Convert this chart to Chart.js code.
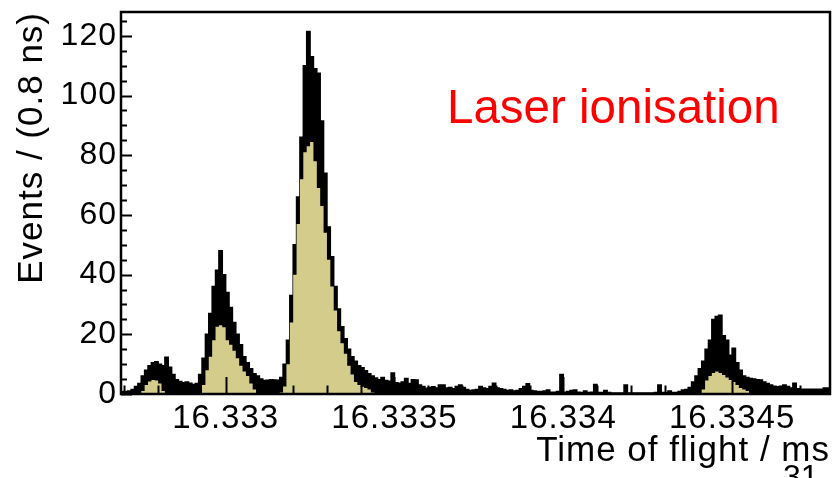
<!DOCTYPE html>
<html>
<head>
<meta charset="utf-8">
<script src="https://cdn.jsdelivr.net/npm/chart.js@4.4.1/dist/chart.umd.min.js"></script>
<style>
  html, body { margin: 0; padding: 0; background: #fff; }
  canvas { display: block; }
</style>
</head>
<body>
<canvas id="tofChart" width="836" height="478"></canvas>
<script>
// time of flight histogram, 10 ns bins from binStart (ms)
const binStart = 16.33269;
const binWidth = 0.00001;
const xEnd = 16.33479;

// outer (black) counts per bin
const outerCounts = [
  0.5, 0.8, 0.8, 1, 1.5, 2.5, 3.5, 6, 8, 9.5,
  10.5, 10.8, 10, 9.5, 12.3, 9, 6.5, 4.8, 4.2, 3.8,
  4, 3.6, 3.2, 3.5, 6.5, 12, 20, 27, 36, 41.5,
  48, 40, 34, 29, 24, 20, 16.5, 12.5, 10.5, 8.5,
  6.8, 6, 5, 4.5, 4.6, 4.8, 4.7, 4.6, 5.5, 10,
  18, 33, 50, 66, 86, 110, 121.5, 113, 109, 107.5,
  91.5, 74, 56, 46, 36, 28.5, 22.5, 18.5, 15, 12.5,
  11, 9.5, 8.8, 7.8, 6.8, 6, 5.4, 4.8, 5.5, 4.5,
  4.3, 7, 3.8, 3.6, 4, 5.2, 3.5, 4.8, 4.7, 3,
  2.5, 1.9, 2.2, 2.4, 2, 3, 3, 2, 2.2, 1.8,
  2.5, 3, 2.2, 1.5, 1.2, 1.3, 1.5, 2.5, 2, 1.8,
  2.5, 3.6, 2, 1.8, 1.5, 1.2, 1.3, 1, 1.2, 1.8,
  2.5, 3.4, 1.2, 1, 0.8, 0.8, 1, 1.3, 0.6, 0.6,
  0.8, 6.5, 0.6, 0.8, 1.2, 1.3, 0.6, 0.5, 1, 0.5,
  0.6, 3.2, 0.5, 0.5, 1.2, 0.5, 0.3, 0.3, 0.3, 0.3,
  3, 0.3, 0.3, 0.3, 0.3, 0.3, 0.3, 0.3, 0.3, 0.5,
  3, 0.5, 0.5, 1, 0.5, 0.5, 0.8, 1.3, 1.5, 2.2,
  4, 6, 8.5, 11, 15, 18, 25, 26, 26.4, 19.5,
  18, 13, 15.3, 10.5, 8, 6, 5.5, 5.2, 5, 4.8,
  4.7, 4, 3.5, 3, 2.6, 2.4, 2.6, 3, 2.5, 2,
  3.6, 1.8, 1.6, 1.6, 1.6, 1.6, 1.6, 1.6, 1.6, 2
];

// inner (filled) counts per bin
const innerCounts = [
  0, 0, 0, 0, 0, 0, 0, 1, 3, 4.2,
  4.7, 4.5, 3.5, 1, 0, 0, 0, 0, 0, 0,
  0, 0, 0, 0, 0, 3, 8, 12.5, 18, 22.5,
  23, 22.4, 18, 16.5, 14.5, 12, 9.5, 7.5, 6, 3.5,
  1.5, 0, 0, 0, 0, 0, 0, 0, 0.5, 2.5,
  10, 24, 40, 57, 72, 81, 83, 84.4, 78, 69,
  63, 54, 45, 36, 28, 21, 17, 13.5, 9.5, 6.5,
  4, 3, 2.4, 2, 1.5, 0.5, 0, 0, 0, 0,
  0, 0, 0, 0, 0, 0, 0, 0, 0, 0,
  0, 0, 0, 0, 0, 0, 0, 0, 0, 0,
  0, 0, 0, 0, 0, 0, 0, 0, 0, 0,
  0, 0, 0, 0, 0, 0, 0, 0, 0, 0,
  0, 0, 0, 0, 0, 0, 0, 0, 0, 0,
  0, 0, 0, 0, 0, 0, 0, 0, 0, 0,
  0, 0, 0, 0, 0, 0, 0, 0, 0, 0,
  0, 0, 0, 0, 0, 0, 0, 0, 0, 0,
  0, 0, 0, 0, 0, 0, 0, 0, 0, 0,
  0, 0, 0, 1.5, 4.5, 6, 7, 7.5, 7, 6.4,
  5.5, 4.7, 4, 3, 2, 1.5, 1, 0, 0, 0,
  0, 0, 0, 0, 0, 0, 0, 0, 0, 0,
  0, 0, 0, 0, 0, 0, 0, 0, 0, 0
];

const xTicks = [16.333, 16.3335, 16.334, 16.3345];
const xTickLabels = ['16.333', '16.3335', '16.334', '16.3345'];
const yTicks = [0, 20, 40, 60, 80, 100, 120];
const yMax = 128;

const FONT = '"Liberation Sans", Arial, Helvetica, sans-serif';

// bin left edges, plus the closing edge so the last bin has width
function toPoints(counts) {
  const pts = counts.map((v, i) => ({ x: binStart + i * binWidth, y: v }));
  pts.push({ x: xEnd, y: counts[counts.length - 1] });
  return pts;
}

// frame, inward ticks and the text on the canvas
const frameAndTicks = {
  id: 'frameAndTicks',
  beforeUpdate(chart) { chart.ctx.letterSpacing = '1px'; },
  beforeDraw(chart) { chart.ctx.letterSpacing = '1px'; },
  afterDatasetsDraw(chart) {
    const { ctx, chartArea: a, scales: { x, y } } = chart;
    ctx.save();
    ctx.strokeStyle = '#000';
    ctx.lineWidth = 2;
    ctx.beginPath();
    for (let k = 0; k <= 21; k++) {
      const v = 16.3327 + k * 0.0001;
      if (v > xEnd) break;
      const px = Math.round(x.getPixelForValue(v)) + 0.5;
      const major = xTicks.some(t => Math.abs(t - v) < 1e-7);
      const len = major ? 17 : 8.5;
      ctx.moveTo(px, a.bottom);
      ctx.lineTo(px, a.bottom - len);
    }
    for (let v = 0; v <= yMax; v += 5) {
      const py = Math.round(y.getPixelForValue(v)) + 0.5;
      const len = v % 20 === 0 ? 11 : 6;
      ctx.moveTo(a.left, py);
      ctx.lineTo(a.left + len, py);
    }
    ctx.stroke();
    ctx.lineWidth = 2.5;
    ctx.strokeRect(a.left, a.top, a.right - a.left, a.bottom - a.top);

    ctx.letterSpacing = '0px';
    ctx.fillStyle = '#ff0000';
    ctx.font = '47.5px ' + FONT;
    ctx.textAlign = 'left';
    ctx.textBaseline = 'alphabetic';
    ctx.fillText('Laser ionisation', 447, 123);
    ctx.restore();
  },
  afterDraw(chart) {
    const ctx = chart.ctx;
    ctx.save();
    ctx.letterSpacing = '0px';
    ctx.fillStyle = '#000';
    ctx.font = '32px ' + FONT;
    ctx.textAlign = 'left';
    ctx.textBaseline = 'alphabetic';
    ctx.fillText('31', 783, 487);
    ctx.restore();
  }
};

new Chart(document.getElementById('tofChart'), {
  type: 'line',
  data: {
    datasets: [
      {
        label: 'inner',
        data: toPoints(innerCounts),
        stepped: 'after',
        borderWidth: 0,
        borderColor: 'rgba(0,0,0,0)',
        backgroundColor: '#d3cc8a',
        fill: 'origin',
        pointRadius: 0,
        order: 0
      },
      {
        label: 'outer',
        data: toPoints(outerCounts),
        stepped: 'after',
        borderWidth: 1.5,
        borderColor: '#000',
        backgroundColor: '#000',
        fill: 'origin',
        pointRadius: 0,
        order: 1
      }
    ]
  },
  options: {
    responsive: false,
    animation: false,
    devicePixelRatio: 1,
    layout: { padding: { top: 12, right: 6, left: 0, bottom: 0 } },
    plugins: {
      legend: { display: false },
      tooltip: { enabled: false }
    },
    scales: {
      x: {
        type: 'linear',
        min: binStart,
        max: xEnd,
        afterBuildTicks: s => { s.ticks = xTicks.map(v => ({ value: v })); },
        afterFit: s => {
          s.height = 84;
          s.paddingLeft = 0;
          s.paddingRight = 0;
        },
        grid: { display: false, drawTicks: false },
        border: { display: false },
        ticks: {
          color: '#000',
          font: { family: FONT, size: 33 },
          padding: 5,
          maxRotation: 0,
          autoSkip: false,
          callback: (v, i) => xTickLabels[i]
        },
        title: {
          display: true,
          text: 'Time of flight / ms',
          align: 'end',
          color: '#000',
          font: { family: FONT, size: 35 },
          padding: { top: 0, bottom: 6 }
        }
      },
      y: {
        min: 0,
        max: yMax,
        afterBuildTicks: s => { s.ticks = yTicks.map(v => ({ value: v })); },
        afterFit: s => {
          s.width = 121;
          s.paddingTop = 0;
          s.paddingBottom = 0;
        },
        grid: { display: false, drawTicks: false },
        border: { display: false },
        ticks: {
          color: '#000',
          font: { family: FONT, size: 32 },
          padding: 4,
          callback: v => String(v)
        },
        title: {
          display: true,
          text: 'Events / (0.8 ns)',
          align: 'end',
          color: '#000',
          font: { family: FONT, size: 35 },
          padding: { top: 11, bottom: 0 }
        }
      }
    }
  },
  plugins: [frameAndTicks]
});
</script>
</body>
</html>
